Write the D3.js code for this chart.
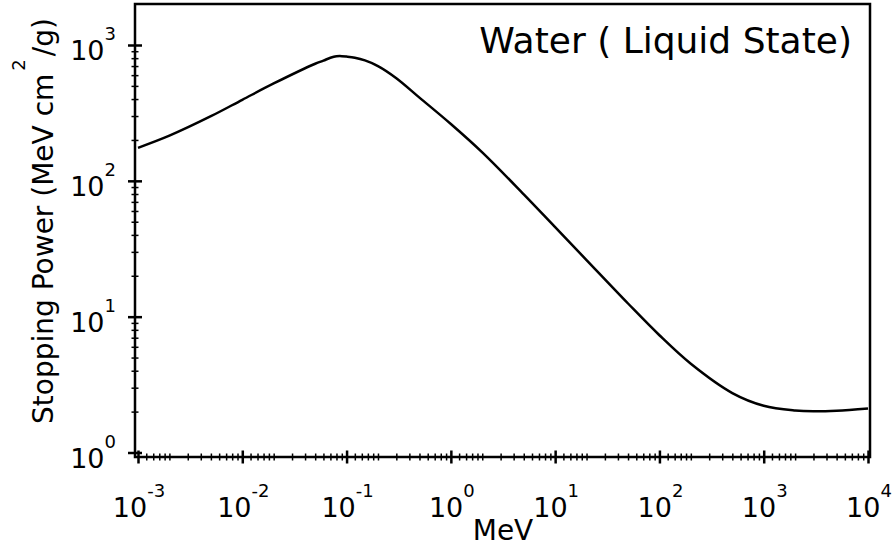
<!DOCTYPE html>
<html>
<head>
<meta charset="utf-8">
<script src="https://cdn.jsdelivr.net/npm/d3@7"></script>
<style>
  body { margin: 0; background: #fff; }
  text { font-family: "DejaVu Sans", sans-serif; fill: #000; }
</style>
</head>
<body>
<div id="chart"></div>
<script>
// proton stopping power in liquid water
const energy = [0.001, 0.002, 0.005, 0.01, 0.02, 0.05, 0.06, 0.07, 0.08, 0.09,
  0.1, 0.12, 0.15, 0.2, 0.3, 0.5, 1, 2, 5, 10,
  20, 50, 100, 200, 500, 1000, 2000, 3000, 5000, 10000];
const stopping = [175, 215, 299, 395, 521, 728, 768, 805, 826, 828,
  822, 806, 770, 700, 570, 410, 262, 162, 79.5, 45.6,
  26.1, 12.5, 7.3, 4.5, 2.74, 2.21, 2.04, 2.01, 2.03, 2.11];

const xDecades = [-3, -2, -1, 0, 1, 2, 3, 4];
const yDecades = [0, 1, 2, 3];
const xMinorSteps = [1.2, 1.4, 1.6, 1.8, 2, 3, 4, 5, 6, 7, 8, 9];
const yMinorSteps = [2, 3, 4, 5, 6, 7, 8, 9];

const width = 896, height = 548;
const frame = { left: 135, right: 870, top: 4, bottom: 457 };

const svg = d3.select("#chart").append("svg")
  .attr("width", width)
  .attr("height", height);

const x = d3.scaleLog().domain([1e-3, 1e4]).range([138, 868]);
const y = d3.scaleLog().domain([1, 1000]).range([452.5, 45]);

const xMinor = [];
xDecades.slice(0, -1).forEach(d => xMinorSteps.forEach(s => xMinor.push(s * Math.pow(10, d))));
const yMinor = [];
yDecades.slice(0, -1).forEach(d => yMinorSteps.forEach(s => yMinor.push(s * Math.pow(10, d))));

// frame
svg.append("rect")
  .attr("x", frame.left).attr("y", frame.top)
  .attr("width", frame.right - frame.left)
  .attr("height", frame.bottom - frame.top)
  .attr("fill", "none").attr("stroke", "#000").attr("stroke-width", 2.5);

// ticks crossing the axis lines
function crossTicks(g, horiz, half, sw) {
  g.select(".domain").remove();
  g.selectAll(".tick text").remove();
  g.selectAll(".tick line")
    .attr("stroke", "#000").attr("stroke-width", sw)
    .attr(horiz ? "y1" : "x1", -half).attr(horiz ? "y2" : "x2", half);
}

const xTicksMajor = xDecades.map(d => Math.pow(10, d));
const yTicksMajor = yDecades.map(d => Math.pow(10, d));

svg.append("g").attr("transform", `translate(0,${frame.bottom})`)
  .call(d3.axisBottom(x).tickValues(xMinor).tickSize(0))
  .call(g => crossTicks(g, true, 3.5, 1.5));
svg.append("g").attr("transform", `translate(0,${frame.bottom})`)
  .call(d3.axisBottom(x).tickValues(xTicksMajor).tickSize(0))
  .call(g => crossTicks(g, true, 6.5, 2.5));

svg.append("g").attr("transform", `translate(${frame.left},0)`)
  .call(d3.axisLeft(y).tickValues(yMinor).tickSize(0))
  .call(g => crossTicks(g, false, 3.5, 1.5));
svg.append("g").attr("transform", `translate(${frame.left},0)`)
  .call(d3.axisLeft(y).tickValues(yTicksMajor).tickSize(0))
  .call(g => crossTicks(g, false, 7, 2.5));

// tick labels as 10^n
xDecades.forEach(d => {
  const t = svg.append("text")
    .attr("x", x(Math.pow(10, d)) + 1)
    .attr("y", 517)
    .attr("text-anchor", "middle")
    .style("font-size", "27px");
  t.append("tspan").text("10");
  t.append("tspan").attr("dy", -20).style("font-size", "18px").text(d);
});

yDecades.forEach(d => {
  const t = svg.append("text")
    .attr("x", 116)
    .attr("y", y(Math.pow(10, d)) + 15)
    .attr("text-anchor", "end")
    .style("font-size", "27px");
  t.append("tspan").text("10");
  t.append("tspan").attr("dy", -20).style("font-size", "18px").text(d);
});

// axis titles
svg.append("text")
  .attr("x", 503).attr("y", 540)
  .attr("text-anchor", "middle")
  .style("font-size", "28px")
  .text("MeV");

const yl = svg.append("text")
  .attr("transform", "translate(53,221) rotate(-90)")
  .attr("text-anchor", "middle")
  .style("font-size", "28px");
yl.append("tspan").text("Stopping Power (MeV cm");
yl.append("tspan").attr("dx", 3).attr("dy", -28).style("font-size", "18px").text("2");
yl.append("tspan").attr("dx", 3).attr("dy", 28).text("/g)");

svg.append("text")
  .attr("x", 852).attr("y", 53)
  .attr("text-anchor", "end")
  .style("font-size", "36px")
  .text("Water ( Liquid State)");

// curve
const line = d3.line()
  .x((d, i) => x(energy[i]))
  .y(d => y(d))
  .curve(d3.curveCatmullRom.alpha(0.5));

svg.append("path")
  .datum(stopping)
  .attr("d", line)
  .attr("fill", "none")
  .attr("stroke", "#000")
  .attr("stroke-width", 2.5);
</script>
</body>
</html>
